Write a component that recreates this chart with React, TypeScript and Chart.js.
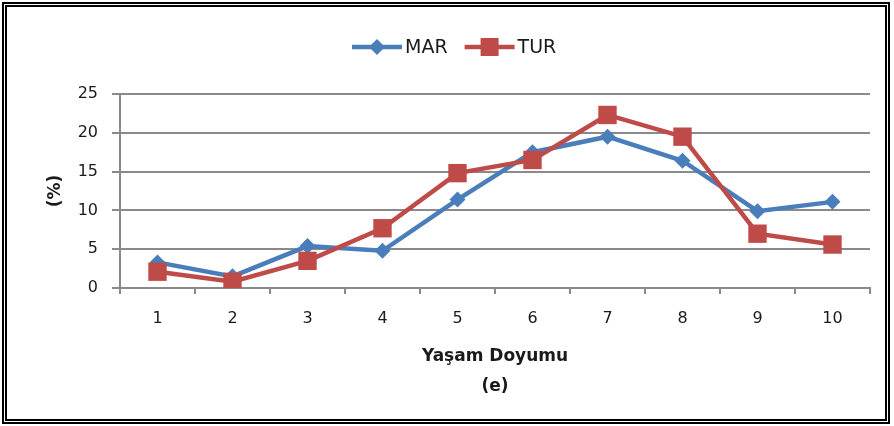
import React, { useEffect, useRef } from "react";
import { Chart, registerables } from "chart.js";

Chart.register(...registerables);

const categories = ["1", "2", "3", "4", "5", "6", "7", "8", "9", "10"];
const marValues = [3.3, 1.5, 5.4, 4.8, 11.4, 17.5, 19.5, 16.4, 9.9, 11.1];
const turValues = [2.1, 0.8, 3.5, 7.7, 14.8, 16.5, 22.3, 19.5, 7.0, 5.6];
const seriesNames = ["MAR", "TUR"];
const xTitle = ["Yaşam Doyumu", "(e)"];
const yTitle = "(%)";

const BLUE = "#4a7ebb";
const RED = "#be4b48";
const GRID = "#8a8a8a";
const FONT = "'DejaVu Sans', 'Liberation Sans', sans-serif";

const legendPlugin = {
  id: "lineLegend",
  afterDraw(chart: any) {
    const ctx = chart.ctx;
    const y = 47;
    let x = 352;
    ctx.save();
    chart.data.datasets.slice().sort((a: any, b: any) => a.legendIndex - b.legendIndex).forEach((ds: any) => {
      const lineLen = 50;
      ctx.strokeStyle = ds.borderColor;
      ctx.lineWidth = 4.5;
      ctx.beginPath();
      ctx.moveTo(x, y);
      ctx.lineTo(x + lineLen, y);
      ctx.stroke();
      const cx = x + lineLen / 2;
      ctx.fillStyle = ds.backgroundColor;
      ctx.beginPath();
      if (ds.pointStyle === "rectRot") {
        const r = 8;
        ctx.moveTo(cx, y - r);
        ctx.lineTo(cx + r, y);
        ctx.lineTo(cx, y + r);
        ctx.lineTo(cx - r, y);
        ctx.closePath();
      } else {
        const s = 9;
        ctx.rect(cx - s, y - s, 2 * s, 2 * s);
      }
      ctx.fill();
      ctx.fillStyle = "#1a1a1a";
      ctx.font = `19px ${FONT}`;
      ctx.textBaseline = "middle";
      ctx.textAlign = "left";
      ctx.fillText(ds.label, x + lineLen + 3, y + 1);
      const w = ctx.measureText(ds.label).width;
      x += lineLen + 3 + w + 17;
    });
    ctx.restore();
  },
};

export default function App() {
  const canvasRef = useRef<HTMLCanvasElement>(null);

  useEffect(() => {
    if (!canvasRef.current) return;
    const chart = new Chart(canvasRef.current, {
      type: "line",
      data: {
        labels: categories,
        datasets: [
          {
            label: seriesNames[0],
            data: marValues,
            borderColor: BLUE,
            backgroundColor: BLUE,
            borderWidth: 4.5,
            pointStyle: "rectRot",
            pointRadius: 8,
            pointBorderWidth: 0,
            tension: 0,
            order: 1,
            legendIndex: 0,
          } as any,
          {
            label: seriesNames[1],
            data: turValues,
            borderColor: RED,
            backgroundColor: RED,
            borderWidth: 4.5,
            pointStyle: "rect",
            pointRadius: 13,
            pointBorderWidth: 0,
            tension: 0,
            order: 0,
            legendIndex: 1,
          } as any,
        ],
      },
      options: {
        animation: false,
        responsive: false,
        maintainAspectRatio: false,
        layout: { padding: { left: 45, top: 94, right: 24, bottom: 20 } },
        plugins: {
          legend: { display: false },
          tooltip: { enabled: false },
        },
        scales: {
          x: {
            offset: true,
            grid: {
              offset: true,
              drawOnChartArea: false,
              drawTicks: true,
              tickLength: 6,
              color: GRID,
              lineWidth: 2,
            },
            border: { color: GRID, width: 2 },
            ticks: {
              color: "#1a1a1a",
              font: { family: FONT, size: 16 },
              padding: 15,
            },
            title: {
              display: true,
              text: xTitle,
              color: "#1a1a1a",
              font: { family: FONT, size: 17, weight: "bold", lineHeight: 1.765 },
              padding: { top: 0, bottom: 4 },
            },
            afterFit(scale: any) {
              scale.height = 118;
            },
          },
          y: {
            min: 0,
            max: 25,
            ticks: {
              stepSize: 5,
              color: "#1a1a1a",
              font: { family: FONT, size: 16 },
              padding: 14,
            },
            grid: {
              color: GRID,
              lineWidth: 2,
              tickLength: 8,
            },
            border: { color: GRID, width: 2 },
            title: {
              display: true,
              text: yTitle,
              color: "#1a1a1a",
              font: { family: FONT, size: 17, weight: "bold" },
              padding: 0,
            },
            afterFit(scale: any) {
              scale.width = 75;
            },
          },
        },
      } as any,
      plugins: [legendPlugin],
    });
    return () => chart.destroy();
  }, []);

  return (
    <div style={{ position: "fixed", left: 0, top: 0, width: 894, height: 426, background: "#fff" }}>
      <canvas ref={canvasRef} width={894} height={426} style={{ position: "absolute", left: 0, top: 0 }} />
      <div
        style={{
          position: "absolute",
          left: 2,
          top: 2,
          width: 888,
          height: 422,
          boxSizing: "border-box",
          border: "5px double #000",
          pointerEvents: "none",
        }}
      />
    </div>
  );
}
